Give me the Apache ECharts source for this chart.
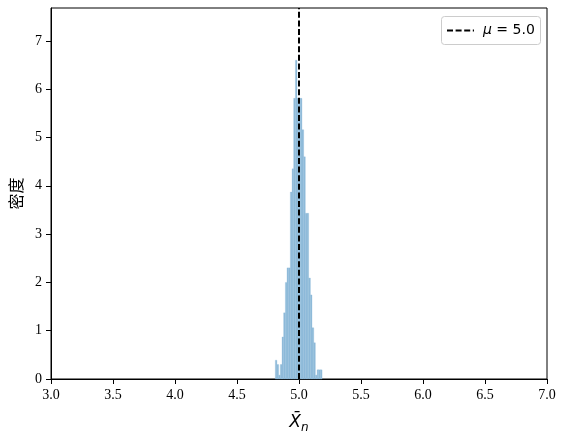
<!DOCTYPE html>
<html><head><meta charset="utf-8">
<script src="https://cdn.jsdelivr.net/npm/echarts@6/dist/echarts.min.js"></script>
<style>html,body{margin:0;padding:0;background:#fff}#c{width:567px;height:442px}</style>
</head><body><div id="c"></div>
<script>
// Histogram bin edges (x values) and density heights
const binEdges = [4.809, 4.822, 4.836, 4.849, 4.863, 4.876, 4.890, 4.903, 4.917, 4.930,
                  4.944, 4.957, 4.971, 4.984, 4.997, 5.011, 5.024, 5.038, 5.051, 5.065,
                  5.078, 5.092, 5.105, 5.119, 5.132, 5.146, 5.159, 5.173, 5.186];
const densities = [0.39, 0.30, 0.08, 0.30, 0.87, 1.37, 2.00, 2.30, 2.30, 3.87,
                   4.35, 5.81, 6.60, 5.81, 5.81, 5.81, 5.16, 4.60, 3.43, 3.43,
                   2.09, 1.74, 1.06, 0.75, 0.08, 0.19, 0.19, 0.19];
const muValue = 5.0;
const xTicks = [3.0, 3.5, 4.0, 4.5, 5.0, 5.5, 6.0, 6.5, 7.0];
const yTicks = [0, 1, 2, 3, 4, 5, 6, 7];
const xRange = [3.0, 7.0];
const yRange = [0, 7.68];
const yLabel = '密度';
const legendText = 'μ = ' + muValue.toFixed(1);

const bins = densities.map((d, i) => [binEdges[i], binEdges[i + 1], d]);

const chart = echarts.init(document.getElementById('c'), null, {renderer: 'canvas'});
const tickFont = {fontFamily: 'Liberation Serif', fontSize: 14, color: '#000'};

chart.setOption({
  animation: false,
  backgroundColor: '#fff',
  grid: {left: 51, right: 20, top: 8, bottom: 63, show: true, borderColor: '#000', borderWidth: 1, backgroundColor: 'transparent'},
  xAxis: {
    type: 'value', min: xRange[0], max: xRange[1], interval: 0.5,
    name: '{x|X\u0304}{n|n}', nameLocation: 'middle', nameGap: 33,
    nameTextStyle: {
      rich: {
        x: {fontFamily: 'DejaVu Sans', fontStyle: 'italic', fontSize: 17, color: '#000', lineHeight: 22},
        n: {fontFamily: 'DejaVu Sans', fontStyle: 'italic', fontSize: 12, color: '#000', verticalAlign: 'bottom', lineHeight: 12}
      }
    },
    axisLine: {show: true, onZero: false, lineStyle: {color: '#000', width: 1}},
    axisTick: {show: true, length: 5, lineStyle: {color: '#000', width: 1}, customValues: xTicks},
    axisLabel: Object.assign({margin: 9, customValues: xTicks, formatter: v => Number(v).toFixed(1)}, tickFont),
    splitLine: {show: false}
  },
  yAxis: {
    type: 'value', min: yRange[0], max: yRange[1],
    name: yLabel, nameLocation: 'middle', nameGap: 26, nameRotate: 90,
    nameTextStyle: {fontFamily: 'Noto Sans CJK SC', fontSize: 16, color: '#000'},
    axisLine: {show: true, onZero: false, lineStyle: {color: '#000', width: 1}},
    axisTick: {show: true, length: 5, lineStyle: {color: '#000', width: 1}, customValues: yTicks},
    axisLabel: Object.assign({margin: 9, customValues: yTicks, formatter: v => String(v)}, tickFont),
    splitLine: {show: false}
  },
  series: [
    {
      type: 'custom',
      data: bins,
      encode: {x: [0, 1], y: 2},
      z: 2,
      renderItem: function (params, api) {
        const p0 = api.coord([api.value(0), api.value(2)]);
        const p1 = api.coord([api.value(1), 0]);
        return {
          type: 'rect',
          shape: {x: p0[0], y: p0[1], width: p1[0] - p0[0], height: p1[1] - p0[1]},
          style: {fill: '#8fbbd9', stroke: '#8fbbd9', lineWidth: 0.3}
        };
      }
    },
    {
      type: 'line',
      data: [],
      z: 5,
      markLine: {
        silent: true,
        symbol: ['none', 'none'],
        label: {show: false},
        lineStyle: {color: '#000', width: 2, type: [6, 2.6]},
        data: [{xAxis: muValue}]
      }
    }
  ],
  graphic: [
    {
      type: 'group', left: 441, top: 16, z: 100,
      children: [
        {type: 'rect', shape: {x: 0.5, y: 0.5, width: 99, height: 28, r: 3},
         style: {fill: 'rgba(255,255,255,0.8)', stroke: '#cccccc', lineWidth: 1}},
        {type: 'line', shape: {x1: 6, y1: 14.5, x2: 33, y2: 14.5},
         style: {stroke: '#000', lineWidth: 2, lineDash: [6, 2.6]}},
        {type: 'text', x: 42, y: 14.5,
         style: {
           text: '{m|μ}{t|' + legendText.slice(1) + '}',
           verticalAlign: 'middle',
           rich: {
             m: {fontFamily: 'DejaVu Sans', fontStyle: 'italic', fontSize: 14, fill: '#000'},
             t: {fontFamily: 'DejaVu Sans', fontSize: 14, fill: '#000'}
           }
         }}
      ]
    }
  ]
});
</script>
</body></html>
